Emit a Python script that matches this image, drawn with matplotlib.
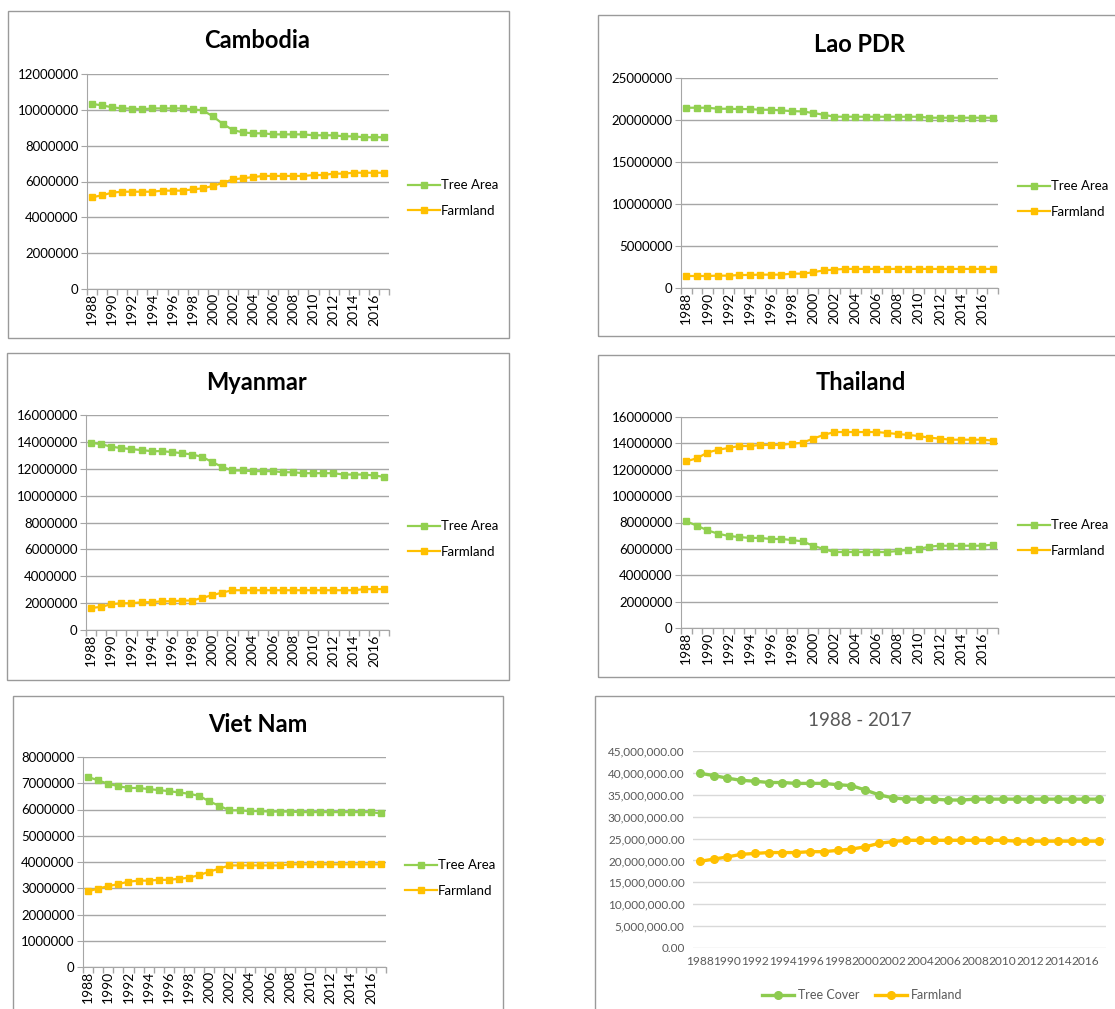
import matplotlib
matplotlib.use('Agg')
import matplotlib.pyplot as plt
from matplotlib.patches import Rectangle
from matplotlib.ticker import FuncFormatter
import numpy as np

plt.rcParams['font.family'] = ['Lato', 'DejaVu Sans']

W, H = 1115, 1009

years = list(range(1988, 2018))

cambodia_tree = [10.33, 10.25, 10.14, 10.08, 10.07, 10.03, 10.08, 10.08, 10.08, 10.08,
                 10.03, 9.97, 9.64, 9.21, 8.87, 8.74, 8.69, 8.69, 8.63, 8.63,
                 8.63, 8.63, 8.58, 8.58, 8.58, 8.52, 8.52, 8.47, 8.47, 8.47]
cambodia_farm = [5.12, 5.23, 5.38, 5.43, 5.43, 5.43, 5.43, 5.49, 5.49, 5.49,
                 5.56, 5.62, 5.75, 5.93, 6.12, 6.18, 6.25, 6.31, 6.31, 6.31,
                 6.31, 6.31, 6.36, 6.36, 6.44, 6.44, 6.49, 6.49, 6.49, 6.49]

lao_tree = [21.46, 21.46, 21.46, 21.34, 21.34, 21.30, 21.30, 21.22, 21.22, 21.14,
            21.06, 21.02, 20.83, 20.63, 20.39, 20.39, 20.39, 20.39, 20.39, 20.39,
            20.39, 20.39, 20.39, 20.27, 20.27, 20.27, 20.27, 20.27, 20.27, 20.27]
lao_farm = [1.43, 1.43, 1.43, 1.47, 1.47, 1.55, 1.55, 1.59, 1.59, 1.59,
            1.71, 1.71, 1.87, 2.10, 2.19, 2.27, 2.27, 2.27, 2.27, 2.27,
            2.27, 2.27, 2.27, 2.27, 2.27, 2.27, 2.27, 2.27, 2.27, 2.27]

myanmar_tree = [13.93, 13.83, 13.64, 13.54, 13.46, 13.39, 13.31, 13.31, 13.24, 13.16,
                13.06, 12.89, 12.49, 12.14, 11.87, 11.87, 11.82, 11.82, 11.82, 11.74,
                11.74, 11.67, 11.67, 11.67, 11.67, 11.57, 11.57, 11.57, 11.50, 11.40]
myanmar_farm = [1.64, 1.72, 1.92, 1.99, 1.99, 2.07, 2.07, 2.14, 2.14, 2.19,
                2.19, 2.39, 2.59, 2.79, 2.96, 2.96, 2.96, 2.96, 2.96, 2.96,
                2.96, 2.96, 2.96, 2.96, 2.96, 2.96, 2.96, 3.04, 3.04, 3.04]

thailand_tree = [8.09, 7.76, 7.41, 7.15, 6.98, 6.90, 6.83, 6.83, 6.75, 6.75,
                 6.67, 6.57, 6.24, 5.99, 5.76, 5.76, 5.76, 5.76, 5.76, 5.76,
                 5.84, 5.92, 5.99, 6.17, 6.24, 6.24, 6.24, 6.24, 6.24, 6.32]
thailand_farm = [12.64, 12.87, 13.30, 13.52, 13.65, 13.80, 13.80, 13.88, 13.88, 13.88,
                 13.98, 14.05, 14.36, 14.64, 14.86, 14.86, 14.86, 14.86, 14.86, 14.79,
                 14.71, 14.64, 14.56, 14.43, 14.36, 14.28, 14.28, 14.28, 14.28, 14.21]

vietnam_tree = [7.24, 7.11, 6.98, 6.89, 6.82, 6.82, 6.78, 6.74, 6.70, 6.65,
                6.60, 6.52, 6.31, 6.14, 5.97, 5.97, 5.94, 5.94, 5.92, 5.92,
                5.92, 5.90, 5.90, 5.90, 5.90, 5.90, 5.90, 5.90, 5.90, 5.85]
vietnam_farm = [2.88, 2.99, 3.08, 3.16, 3.25, 3.29, 3.29, 3.32, 3.32, 3.36,
                3.40, 3.50, 3.63, 3.75, 3.87, 3.87, 3.87, 3.87, 3.87, 3.87,
                3.91, 3.91, 3.91, 3.91, 3.91, 3.91, 3.91, 3.91, 3.91, 3.91]

total_tree = [39.9, 39.4, 38.8, 38.3, 38.1, 37.8, 37.8, 37.6, 37.6, 37.6,
              37.3, 37.1, 36.1, 35.0, 34.3, 34.0, 34.0, 34.0, 33.8, 33.8,
              34.0, 34.0, 34.0, 34.0, 34.0, 34.0, 34.0, 34.0, 34.0, 34.0]
total_farm = [19.8, 20.3, 20.8, 21.4, 21.6, 21.8, 21.8, 21.8, 22.0, 22.0,
              22.3, 22.6, 23.1, 23.9, 24.3, 24.6, 24.6, 24.6, 24.6, 24.6,
              24.6, 24.6, 24.6, 24.4, 24.4, 24.4, 24.4, 24.4, 24.4, 24.4]

GREEN = '#92D050'
ORANGE = '#FFC000'
GRID = '#A6A6A6'

fig = plt.figure(figsize=(W / 100, H / 100), dpi=100)


def box(x0, y0, x1, y1):
    return [x0 / W, 1 - y1 / H, (x1 - x0) / W, (y1 - y0) / H]


def frame(x0, y0, x1, y1):
    fig.patches.append(Rectangle((x0 / W, 1 - y1 / H), (x1 - x0) / W, (y1 - y0) / H,
                                 transform=fig.transFigure, fill=False,
                                 edgecolor='#9A9A9A', linewidth=1.0))


# (title, tree, farm, ymax, ystep, border, plot area, title x, title y, legend x, legend y)
panels = [
    ('Cambodia', cambodia_tree, cambodia_farm, 12, 2, (8, 11, 509, 338), (87, 74, 389, 289), 257, 40, 408, 198),
    ('Lao PDR', lao_tree, lao_farm, 25, 5, (598, 15, 1125, 336), (681, 78, 998, 288), 860, 44, 1018, 199),
    ('Myanmar', myanmar_tree, myanmar_farm, 16, 2, (7, 353, 509, 680), (86, 415, 389, 630), 257, 382, 408, 539),
    ('Thailand', thailand_tree, thailand_farm, 16, 2, (598, 355, 1125, 677), (681, 417, 998, 628), 861, 382, 1018, 538),
    ('Viet Nam', vietnam_tree, vietnam_farm, 8, 1, (13, 696, 503, 1030), (83, 757, 386, 967), 258, 724, 405, 878),
]

x = np.arange(len(years)) + 0.5

for title, tree, farm, ymax, ystep, border, area, tx, ty, lx, ly in panels:
    frame(*border)
    ax = fig.add_axes(box(*area))
    ax.plot(x, np.array(tree) * 1e6, color=GREEN, lw=1.6, marker='s', ms=3.8, label='Tree Area')
    ax.plot(x, np.array(farm) * 1e6, color=ORANGE, lw=1.6, marker='s', ms=3.8, label='Farmland')
    ax.set_xlim(0, len(years))
    ax.set_ylim(0, ymax * 1e6)
    ax.set_yticks(np.arange(0, ymax + ystep / 2, ystep) * 1e6)
    ax.yaxis.set_major_formatter(FuncFormatter(lambda v, _: f'{v:.0f}'))
    ax.grid(axis='y', color=GRID, lw=1.0)
    ax.set_axisbelow(True)
    ax.set_xticks(np.arange(0, len(years) + 1))
    ax.set_xticklabels([])
    ax.set_xticks(x[::2], minor=True)
    ax.set_xticklabels([str(y) for y in years[::2]], minor=True, rotation=90, fontsize=10)
    ax.tick_params(axis='x', which='major', length=4, color=GRID, width=1)
    ax.tick_params(axis='x', which='minor', length=0, pad=3)
    ax.tick_params(axis='y', length=4, color=GRID, labelsize=9.5, pad=2)
    for s in ('top', 'right'):
        ax.spines[s].set_visible(False)
    for s in ('left', 'bottom'):
        ax.spines[s].set_color(GRID)
    fig.text(tx / W, 1 - ty / H, title, ha='center', va='center', fontsize=17, fontweight='bold')
    ax.legend(loc='center left', bbox_to_anchor=(lx / W, 1 - ly / H), bbox_transform=fig.transFigure,
              frameon=False, fontsize=9.5, handlelength=2.4, handletextpad=0.1, labelspacing=1.0,
              borderpad=0, borderaxespad=0)

# combined chart
frame(595, 696, 1125, 1030)
ax = fig.add_axes(box(693, 751, 1106, 948))
xt = np.arange(len(years))
ax.plot(xt, np.array(total_tree) * 1e6, color='#8DCB4F', lw=2.4, marker='o', ms=5.5, label='Tree Cover')
ax.plot(xt, np.array(total_farm) * 1e6, color=ORANGE, lw=2.4, marker='o', ms=5.5, label='Farmland')
ax.set_xlim(-0.5, len(years) - 0.5)
ax.set_ylim(0, 45e6)
ax.set_yticks(np.arange(0, 46e6, 5e6))
ax.yaxis.set_major_formatter(FuncFormatter(lambda v, _: f'{v:,.2f}'))
ax.set_xticks(xt[::2])
ax.set_xticklabels([str(y) for y in years[::2]])
ax.grid(axis='y', color='#D9D9D9', lw=1.0)
ax.set_axisbelow(True)
ax.tick_params(axis='y', length=0, labelsize=8.5, labelcolor='#595959', pad=6)
ax.tick_params(axis='x', length=0, labelsize=8.6, labelcolor='#595959', pad=6)
for s in ax.spines.values():
    s.set_visible(False)
fig.text(860 / W, 1 - 720 / H, '1988 - 2017', ha='center', va='center', fontsize=13.5, color='#595959')
ax.legend(loc='center', bbox_to_anchor=(862 / W, 1 - 995 / H), bbox_transform=fig.transFigure,
          ncol=2, frameon=False, fontsize=9, handlelength=2.6, handletextpad=0.3, columnspacing=1.2,
          labelcolor='#595959', borderpad=0)

fig.savefig('out.png', dpi=100)
